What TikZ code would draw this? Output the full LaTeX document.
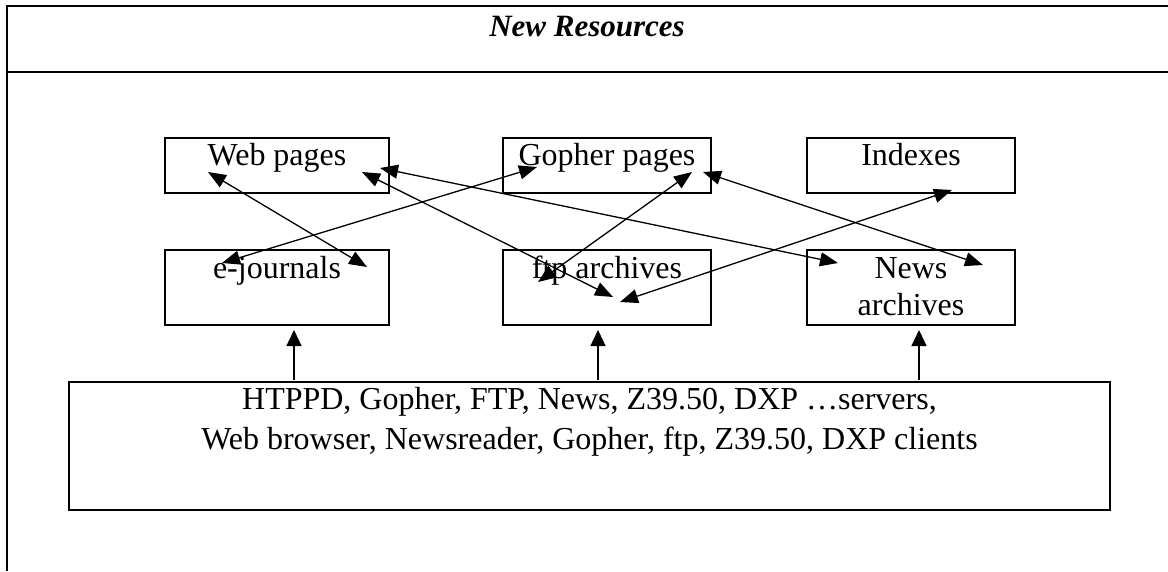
\documentclass[tikz,border=0pt]{standalone}
\usepackage{fontspec}
\setmainfont{Liberation Serif}
\usetikzlibrary{arrows.meta}
\begin{document}
\begin{tikzpicture}[x=1pt,y=-1pt,
  frame/.style={line width=2pt},
  box/.style={draw,line width=1.8pt,inner sep=0pt,anchor=north,align=center,
    font=\fontsize{32}{37}\selectfont},
  link/.style={line width=1.3pt,
    {Triangle[length=18pt,width=14pt]}-{Triangle[length=18pt,width=14pt]}},
  feed/.style={line width=1.3pt,-{Triangle[length=16pt,width=15pt]}}]
\useasboundingbox (0,0) rectangle (1168,571);

% page frame and heading row
\draw[frame] (1168,6) -- (7,6) -- (7,571);
\draw[frame] (7,72) -- (1168,72);
\node[anchor=base,font=\bfseries\itshape\fontsize{31}{36}\selectfont] (title) at (587,36) {New Resources};

% upper row
\node[box,minimum width=224pt,text height=28pt,text depth=27pt] (web) at (277,137) {Web pages};
\node[box,minimum width=208pt,text height=28pt,text depth=27pt] (gopher) at (607,137) {Gopher pages};
\node[box,minimum width=208pt,text height=28pt,text depth=27pt] (index) at (911,137) {Indexes};

% lower row
\node[box,minimum width=224pt,text height=29pt,text depth=46pt] (ejour) at (277,249) {e-journals};
\node[box,minimum width=208pt,text height=29pt,text depth=46pt] (ftp) at (607,249) {ftp archives};
\node[box,minimum width=208pt,text height=66pt,text depth=9pt] (news) at (911,249) {News\\archives};

% servers and clients
\node[box,minimum width=1041pt,text height=68pt,text depth=60pt,
  font=\fontsize{32}{40}\selectfont] (base) at (589.5,381)
  {HTPPD, Gopher, FTP, News, Z39.50, DXP …servers,\\Web browser, Newsreader, Gopher, ftp, Z39.50, DXP clients};

% arrow ends
\coordinate (aw1) at (208,172);  \coordinate (ae1) at (367,267);
\coordinate (ae2) at (222,263);  \coordinate (ag2) at (537,167);
\coordinate (aw3) at (362,172);  \coordinate (af3) at (613,297);
\coordinate (aw4) at (380,168);  \coordinate (an4) at (838,263);
\coordinate (af5) at (538,282);  \coordinate (ag5) at (692,172);
\coordinate (ag6) at (703,172);  \coordinate (an6) at (983,265);
\coordinate (ai7) at (952,190);  \coordinate (af7) at (620,302);

\draw[link] (aw1) -- (ae1);
\draw[link] (ae2) -- (ag2);
\draw[link] (aw3) -- (af3);
\draw[link] (aw4) -- (an4);
\draw[link] (af5) -- (ag5);
\draw[link] (ag6) -- (an6);
\draw[link] (ai7) -- (af7);

% upward feeds from the base box
\coordinate (s1) at (294,380); \coordinate (t1) at (294,330);
\coordinate (s2) at (598,380); \coordinate (t2) at (598,330);
\coordinate (s3) at (919,380); \coordinate (t3) at (919,330);
\draw[feed] (s1) -- (t1);
\draw[feed] (s2) -- (t2);
\draw[feed] (s3) -- (t3);
\end{tikzpicture}
\end{document}
